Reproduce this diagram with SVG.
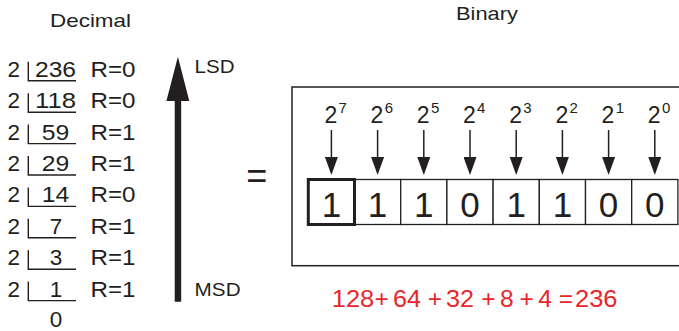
<svg xmlns="http://www.w3.org/2000/svg" width="679" height="331" viewBox="0 0 679 331">
<style>
text{font-family:"Liberation Sans",Arial,Helvetica,sans-serif;fill:#231f20}
.row{font-size:22.5px}
.hdr{font-size:18.5px}
.cell{fill:#fff;stroke:#231f20;stroke-width:1.3}
.bit{font-size:35px;text-anchor:middle}
.base{font-size:23px;text-anchor:middle}
.exp{font-size:15px}
.red{fill:#e8262b;font-size:24.5px;text-anchor:middle}
.br{fill:none;stroke:#231f20;stroke-width:1.4}
.conn line{stroke:#231f20;stroke-width:1.5}
</style>
<defs>
<marker id="ah" markerUnits="userSpaceOnUse" markerWidth="18" markerHeight="13" refX="8" refY="6.5" orient="auto">
<path d="M0,0 L18,6.5 L0,13 z" fill="#231f20"/>
</marker>
</defs>
<rect width="679" height="331" fill="#fff"/>

<g id="headers">
<text class="hdr" x="50" y="26.5" textLength="81" lengthAdjust="spacingAndGlyphs">Decimal</text>
<text class="hdr" x="456" y="20" textLength="62" lengthAdjust="spacingAndGlyphs">Binary</text>
</g>

<g id="decimal">
<g class="row">
<text x="13.7" y="76.7" text-anchor="middle">2</text>
<text x="55.5" y="76.7" text-anchor="middle" textLength="41" lengthAdjust="spacingAndGlyphs">236</text>
<text x="90.5" y="76.7" textLength="45" lengthAdjust="spacingAndGlyphs">R=0</text>
<text x="13.7" y="108.2" text-anchor="middle">2</text>
<text x="55.5" y="108.2" text-anchor="middle" textLength="41" lengthAdjust="spacingAndGlyphs">118</text>
<text x="90.5" y="108.2" textLength="45" lengthAdjust="spacingAndGlyphs">R=0</text>
<text x="13.7" y="139.6" text-anchor="middle">2</text>
<text x="55.5" y="139.6" text-anchor="middle" textLength="27.5" lengthAdjust="spacingAndGlyphs">59</text>
<text x="90.5" y="139.6" textLength="45" lengthAdjust="spacingAndGlyphs">R=1</text>
<text x="13.7" y="171" text-anchor="middle">2</text>
<text x="55.5" y="171" text-anchor="middle" textLength="27.5" lengthAdjust="spacingAndGlyphs">29</text>
<text x="90.5" y="171" textLength="45" lengthAdjust="spacingAndGlyphs">R=1</text>
<text x="13.7" y="202.4" text-anchor="middle">2</text>
<text x="55.5" y="202.4" text-anchor="middle" textLength="27.5" lengthAdjust="spacingAndGlyphs">14</text>
<text x="90.5" y="202.4" textLength="45" lengthAdjust="spacingAndGlyphs">R=0</text>
<text x="13.7" y="233.8" text-anchor="middle">2</text>
<text x="56" y="233.8" text-anchor="middle">7</text>
<text x="90.5" y="233.8" textLength="45" lengthAdjust="spacingAndGlyphs">R=1</text>
<text x="13.7" y="265.2" text-anchor="middle">2</text>
<text x="56" y="265.2" text-anchor="middle">3</text>
<text x="90.5" y="265.2" textLength="45" lengthAdjust="spacingAndGlyphs">R=1</text>
<text x="13.7" y="296.6" text-anchor="middle">2</text>
<text x="56" y="296.6" text-anchor="middle">1</text>
<text x="90.5" y="296.6" textLength="45" lengthAdjust="spacingAndGlyphs">R=1</text>
<text x="56" y="327" text-anchor="middle">0</text>
</g>
<path class="br" d="M28.3,61.7V80.7H76 M28.3,93.2V112.2H76 M28.3,124.6V143.6H76 M28.3,156V175H76 M28.3,187.4V206.4H76 M28.3,218.8V237.8H76 M28.3,250.2V269.2H76 M28.3,281.6V300.6H76"/>
</g>

<g id="labels">
<text class="hdr" x="194.6" y="73.3" textLength="40" lengthAdjust="spacingAndGlyphs">LSD</text>
<text class="hdr" x="194.6" y="296" textLength="46" lengthAdjust="spacingAndGlyphs">MSD</text>
<text x="256.7" y="187.6" text-anchor="middle" font-size="36">=</text>
</g>

<g id="binary-box">
<rect x="292" y="87" width="400" height="178.7" fill="none" stroke="#231f20" stroke-width="1.5"/>
</g>

<g id="powers">
<text class="base" x="330.8" y="122.7">2</text><text class="exp" x="338.5" y="113.3">7</text>
<text class="base" x="377" y="122.7">2</text><text class="exp" x="384.7" y="113.3">6</text>
<text class="base" x="423.2" y="122.7">2</text><text class="exp" x="430.9" y="113.3">5</text>
<text class="base" x="469.4" y="122.7">2</text><text class="exp" x="477.1" y="113.3">4</text>
<text class="base" x="515.6" y="122.7">2</text><text class="exp" x="523.3" y="113.3">3</text>
<text class="base" x="561.8" y="122.7">2</text><text class="exp" x="569.5" y="113.3">2</text>
<text class="base" x="608" y="122.7">2</text><text class="exp" x="615.7" y="113.3">1</text>
<text class="base" x="654.2" y="122.7">2</text><text class="exp" x="661.9" y="113.3">0</text>
</g>

<g id="cells">
<rect class="cell" x="354.5" y="179.5" width="46.2" height="45"/>
<rect class="cell" x="400.7" y="179.5" width="46.2" height="45"/>
<rect class="cell" x="446.9" y="179.5" width="46.2" height="45"/>
<rect class="cell" x="493.1" y="179.5" width="46.2" height="45"/>
<rect class="cell" x="539.3" y="179.5" width="46.2" height="45"/>
<rect class="cell" x="585.5" y="179.5" width="46.2" height="45"/>
<rect class="cell" x="631.7" y="179.5" width="46.2" height="45"/>
<rect x="308.3" y="179.5" width="46.2" height="45" fill="#fff" stroke="#231f20" stroke-width="3"/>
<text class="bit" x="331.4" y="216.7">1</text>
<text class="bit" x="377.6" y="216.7">1</text>
<text class="bit" x="423.8" y="216.7">1</text>
<text class="bit" x="470" y="216.7">0</text>
<text class="bit" x="516.2" y="216.7">1</text>
<text class="bit" x="562.4" y="216.7">1</text>
<text class="bit" x="608.6" y="216.7">0</text>
<text class="bit" x="654.8" y="216.7">0</text>
</g>

<g id="equation">
<text class="red" x="353" y="307.3" textLength="42.5" lengthAdjust="spacingAndGlyphs">128</text>
<text class="red" x="381.7" y="307.3">+</text>
<text class="red" x="407" y="307.3" textLength="28" lengthAdjust="spacingAndGlyphs">64</text>
<text class="red" x="435" y="307.3">+</text>
<text class="red" x="460" y="307.3" textLength="28" lengthAdjust="spacingAndGlyphs">32</text>
<text class="red" x="488.3" y="307.3">+</text>
<text class="red" x="506.7" y="307.3">8</text>
<text class="red" x="526.7" y="307.3">+</text>
<text class="red" x="545" y="307.3">4</text>
<text class="red" x="565.8" y="307.3">=</text>
<text class="red" x="596.3" y="307.3" textLength="42.5" lengthAdjust="spacingAndGlyphs">236</text>
</g>

<g id="connectors" class="conn">
<path d="M174.7,301.7V100H181.2V301.7Z M177.9,56.7L189.3,101H166.4Z" fill="#231f20"/>
<line x1="331.4" y1="130" x2="331.4" y2="165" marker-end="url(#ah)"/>
<line x1="377.6" y1="130" x2="377.6" y2="165" marker-end="url(#ah)"/>
<line x1="423.8" y1="130" x2="423.8" y2="165" marker-end="url(#ah)"/>
<line x1="470" y1="130" x2="470" y2="165" marker-end="url(#ah)"/>
<line x1="516.2" y1="130" x2="516.2" y2="165" marker-end="url(#ah)"/>
<line x1="562.4" y1="130" x2="562.4" y2="165" marker-end="url(#ah)"/>
<line x1="608.6" y1="130" x2="608.6" y2="165" marker-end="url(#ah)"/>
<line x1="654.8" y1="130" x2="654.8" y2="165" marker-end="url(#ah)"/>
</g>
</svg>
